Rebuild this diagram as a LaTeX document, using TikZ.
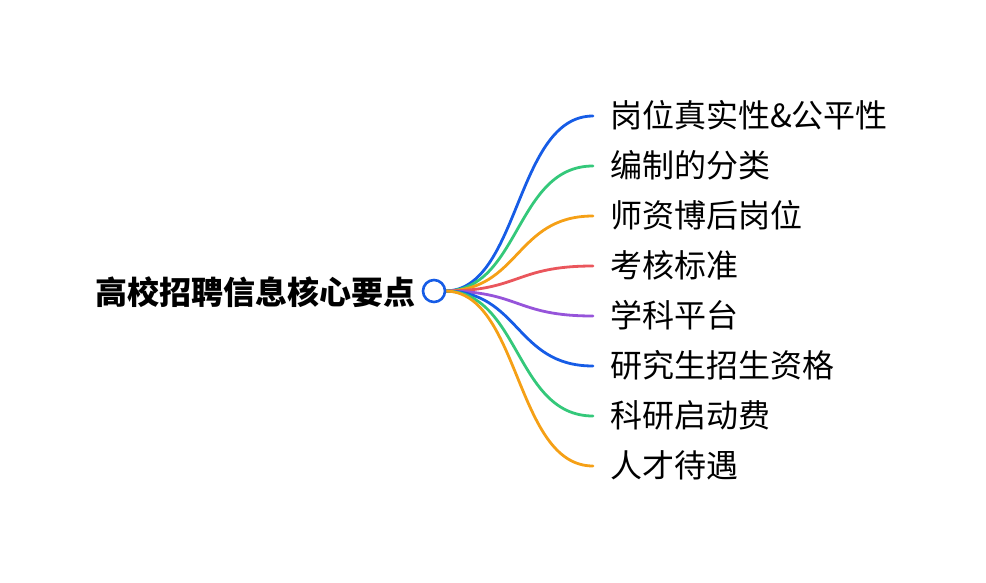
\documentclass[tikz,border=0pt]{standalone}
\usepackage{fontspec}
\setmainfont{Noto Sans CJK SC}
\definecolor{cblue}{RGB}{22,92,230}
\definecolor{cgreen}{RGB}{52,200,122}
\definecolor{corange}{RGB}{245,160,22}
\definecolor{cred}{RGB}{234,86,92}
\definecolor{cpurple}{RGB}{150,84,218}
\begin{document}
\begin{tikzpicture}[x=1pt,y=-1pt,
  leaf/.style={anchor=west,inner xsep=17pt,inner ysep=0pt,font=\fontsize{32}{38}\selectfont,text=black},
  branch/.style={line width=2.8pt,line cap=round},
  hub/.style={circle,draw=cblue,line width=2.6pt,fill=white,minimum size=22pt,inner sep=0pt}]
\useasboundingbox (0,0) rectangle (986,582);
\node[anchor=east,inner sep=0pt,font=\fontsize{32}{38}\selectfont\bfseries] (title) at (416,292) {高校招聘信息核心要点};
\coordinate (hubc) at (434,291);
\node[leaf] (l1) at (593,115) {岗位真实性\&公平性};
\node[leaf] (l2) at (593,165) {编制的分类};
\node[leaf] (l3) at (593,215) {师资博后岗位};
\node[leaf] (l4) at (593,265) {考核标准};
\node[leaf] (l5) at (593,315) {学科平台};
\node[leaf] (l6) at (593,365) {研究生招生资格};
\node[leaf] (l7) at (593,415) {科研启动费};
\node[leaf] (l8) at (593,465) {人才待遇};
\coordinate (s) at (445,291);
\foreach \i/\y/\c in {1/116/cblue,2/166/cgreen,3/216/corange,4/266/cred,5/316/cpurple,6/366/cblue,7/416/cgreen,8/466/corange}{
  \coordinate (e\i) at (593,\y);
  \draw[branch,\c] (s) .. controls (520,291) and (515,\y) .. (e\i);
}
\node[hub] (hub) at (hubc) {};
\end{tikzpicture}
\end{document}
